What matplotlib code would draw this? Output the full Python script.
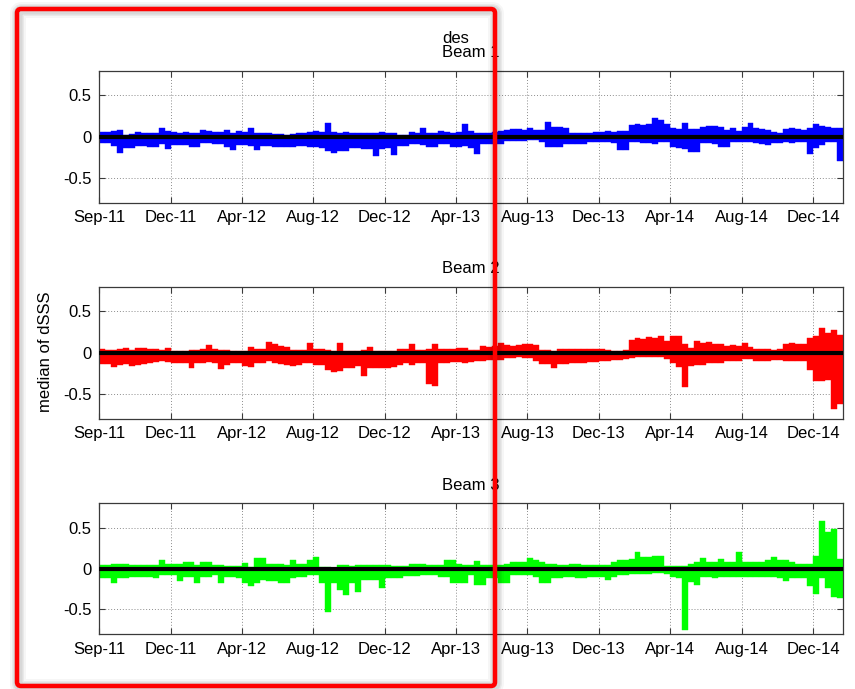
import numpy as np
import matplotlib
matplotlib.use("Agg")
import matplotlib.pyplot as plt
from matplotlib.patches import FancyBboxPatch
from matplotlib.transforms import IdentityTransform

plt.rcParams["font.family"] = ["Liberation Sans", "DejaVu Sans"]

# ---- data: per-bin upper / lower envelope of the median dSSS (10-day bins) ----
bin_days = 10
tick_step_days = 120
tick_labels = ["Sep-11", "Dec-11", "Apr-12", "Aug-12", "Dec-12", "Apr-13",
               "Aug-13", "Dec-13", "Apr-14", "Aug-14", "Dec-14"]

beam1_hi = [.06, .06, .07, .08, .02, .03, .06, .05, .05, .04, .10, .07, .06, .05, .06, .05,
            .04, .08, .07, .06, .06, .08, .05, .07, .06, .10, .05, .04, .04, .03, .03, .02,
            .03, .05, .04, .06, .07, .06, .16, .06, .05, .06, .05, .04, .05, .04, .05, .06,
            .05, .04, .02, .02, .06, .05, .10, .05, .04, .07, .06, .05, .06, .15, .07, .05,
            .04, .05, .06, .07, .08, .09, .09, .08, .10, .08, .08, .18, .12, .12, .10, .05,
            .04, .05, .04, .06, .06, .07, .06, .07, .07, .14, .15, .14, .15, .23, .20, .15,
            .10, .09, .16, .09, .09, .12, .13, .13, .12, .08, .10, .07, .12, .16, .10, .09,
            .08, .06, .04, .09, .10, .09, .08, .10, .15, .13, .12, .11, .11]
beam1_lo = [-.08, -.08, -.11, -.20, -.14, -.14, -.11, -.11, -.13, -.13, -.09, -.15, -.10, -.10,
            -.10, -.13, -.13, -.08, -.08, -.09, -.09, -.12, -.16, -.10, -.10, -.11, -.16, -.11,
            -.11, -.12, -.12, -.12, -.12, -.11, -.11, -.13, -.13, -.14, -.17, -.20, -.17, -.17,
            -.14, -.14, -.15, -.15, -.23, -.15, -.14, -.22, -.11, -.11, -.09, -.09, -.10, -.12,
            -.12, -.09, -.09, -.13, -.13, -.11, -.14, -.21, -.09, -.09, -.09, -.09, -.05, -.05,
            -.05, -.05, -.04, -.04, -.06, -.12, -.12, -.12, -.09, -.09, -.09, -.09, -.07, -.07,
            -.07, -.07, -.08, -.16, -.16, -.07, -.07, -.08, -.08, -.09, -.07, -.07, -.12, -.14,
            -.15, -.18, -.18, -.08, -.08, -.09, -.12, -.12, -.07, -.07, -.06, -.06, -.08, -.09,
            -.10, -.08, -.08, -.07, -.08, -.07, -.07, -.21, -.14, -.10, -.07, -.07, -.29]

beam2_hi = [.04, .03, .03, .05, .06, .03, .06, .06, .04, .04, .03, .06, .02, .02, .02, .03,
            .03, .05, .09, .04, .03, .03, .02, .02, .02, .07, .04, .04, .13, .10, .08, .07,
            .03, .03, .03, .12, .04, .04, .03, .02, .12, .02, .02, .02, .03, .07, .02, .02,
            .02, .02, .04, .04, .10, .03, .03, .04, .10, .04, .04, .04, .06, .06, .03, .03,
            .08, .07, .08, .12, .09, .08, .09, .10, .11, .09, .03, .03, .02, .05, .05, .05,
            .04, .05, .04, .04, .04, .03, .02, .02, .03, .15, .18, .17, .19, .18, .20, .14,
            .20, .20, .10, .06, .14, .12, .13, .10, .10, .08, .09, .08, .12, .07, .04, .04,
            .04, .03, .04, .10, .12, .10, .10, .18, .20, .30, .24, .27, .22]
beam2_lo = [-.14, -.14, -.17, -.15, -.14, -.16, -.15, -.14, -.13, -.11, -.10, -.11, -.12, -.12,
            -.12, -.18, -.12, -.12, -.11, -.12, -.20, -.15, -.13, -.13, -.16, -.17, -.12, -.12,
            -.10, -.13, -.14, -.15, -.16, -.15, -.13, -.12, -.15, -.15, -.21, -.23, -.22, -.18,
            -.18, -.16, -.28, -.19, -.19, -.18, -.18, -.17, -.15, -.13, -.15, -.12, -.12, -.38,
            -.40, -.12, -.12, -.11, -.11, -.12, -.11, -.10, -.10, -.09, -.09, -.09, -.06, -.06,
            -.05, -.06, -.06, -.10, -.14, -.14, -.18, -.14, -.14, -.12, -.12, -.12, -.11, -.11,
            -.10, -.10, -.09, -.09, -.08, -.06, -.05, -.05, -.05, -.05, -.05, -.08, -.12, -.17,
            -.42, -.16, -.15, -.15, -.13, -.12, -.12, -.10, -.10, -.10, -.08, -.08, -.10, -.10,
            -.10, -.09, -.09, -.10, -.10, -.10, -.10, -.21, -.34, -.34, -.33, -.68, -.62]

beam3_hi = [.04, .04, .06, .06, .06, .05, .05, .05, .05, .05, .11, .06, .06, .06, .08, .08,
            .04, .08, .08, .05, .05, .03, .03, .03, .07, .02, .13, .13, .06, .06, .06, .04,
            .10, .06, .06, .10, .14, .02, .02, .01, .05, .04, .03, .04, .04, .04, .04, .04,
            .04, .03, .03, .03, .06, .06, .06, .04, .04, .04, .10, .10, .06, .05, .05, .09,
            .04, .04, .05, .04, .06, .08, .08, .08, .13, .10, .08, .06, .06, .05, .05, .06,
            .06, .04, .04, .05, .05, .04, .08, .10, .10, .12, .20, .14, .14, .16, .16, .03,
            .03, .03, .03, .06, .08, .13, .08, .08, .12, .08, .08, .20, .08, .08, .08, .08,
            .10, .14, .10, .10, .08, .06, .06, .06, .16, .58, .45, .48, .12]
beam3_lo = [-.12, -.12, -.17, -.12, -.12, -.10, -.10, -.10, -.10, -.12, -.08, -.08, -.08, -.15,
            -.10, -.10, -.18, -.10, -.10, -.08, -.17, -.10, -.10, -.12, -.18, -.21, -.18, -.14,
            -.15, -.15, -.17, -.17, -.12, -.10, -.10, -.08, -.08, -.17, -.53, -.18, -.26, -.32,
            -.18, -.28, -.14, -.14, -.14, -.24, -.12, -.12, -.12, -.09, -.09, -.09, -.08, -.08,
            -.08, -.10, -.10, -.17, -.18, -.18, -.08, -.20, -.20, -.12, -.12, -.17, -.17, -.08,
            -.08, -.08, -.08, -.10, -.18, -.18, -.12, -.12, -.10, -.10, -.11, -.11, -.10, -.10,
            -.10, -.14, -.10, -.08, -.08, -.07, -.07, -.06, -.06, -.05, -.05, -.07, -.10, -.12,
            -.75, -.16, -.20, -.10, -.10, -.12, -.10, -.10, -.10, -.10, -.10, -.10, -.10, -.10,
            -.10, -.10, -.12, -.15, -.12, -.12, -.12, -.21, -.31, -.12, -.24, -.35, -.36]

beams = [
    ("des\nBeam 1", beam1_hi, beam1_lo, "#0000ff"),
    ("Beam 2", beam2_hi, beam2_lo, "#ff0000"),
    ("Beam 3", beam3_hi, beam3_lo, "#00ff00"),
]

W, H, DPI = 855, 689, 100
fig = plt.figure(figsize=(W / DPI, H / DPI), dpi=DPI)
fig.patch.set_facecolor("white")

# axes boxes in pixel units: (left, top, right, bottom)
boxes = [(99.3, 70.7, 842.7, 202.7),
         (99.3, 286.7, 842.7, 418.7),
         (99.3, 503.3, 842.7, 634.0)]

FS = 12
spine_col = "#3a3a3a"

for (title, hi, lo, col), (l, t, r, b) in zip(beams, boxes):
    ax = fig.add_axes([l / W, 1 - b / H, (r - l) / W, (b - t) / H])
    n = len(hi)
    x = np.arange(n) * bin_days
    ax.bar(x, hi, width=bin_days, align="edge", color=col, edgecolor=col,
           linewidth=0.3, zorder=2)
    ax.bar(x, lo, width=bin_days, align="edge", color=col, edgecolor=col,
           linewidth=0.3, zorder=2)
    ax.axhline(0, color="black", linewidth=3.0, zorder=3)

    ax.set_xlim(0, n * bin_days)
    ax.set_ylim(-0.8, 0.8)
    ticks = np.arange(len(tick_labels)) * tick_step_days
    ax.set_xticks(ticks)
    ax.set_xticklabels(tick_labels, fontsize=FS)
    ax.set_yticks([-0.5, 0, 0.5])
    ax.set_yticklabels(["-0.5", "0", "0.5"], fontsize=FS)
    ax.tick_params(direction="in", length=4.3, width=0.8, color=spine_col,
                   top=True, right=True, pad=5.5, labelcolor="black")
    ax.grid(True, linestyle=(0, (1, 2)), color="#8c8c8c", linewidth=0.7, zorder=0)
    ax.set_axisbelow(True)
    for s in ax.spines.values():
        s.set_color(spine_col)
        s.set_linewidth(0.9)

    ax.text(0.5, 1 + 13.4 / (b - t), title, transform=ax.transAxes,
            ha="center", va="baseline", ma="left", fontsize=FS, linespacing=0.92)

fig.text(45 / W, 1 - 352 / H, "median of dSSS", rotation=90,
         ha="center", va="center", fontsize=FS)

# highlight frame with a soft shadow
x0, x1 = 17, 495
y0, y1 = H - 686, H - 9
for lw_px, a in [(16, 0.035), (12, 0.05), (9, 0.07)]:
    sh = FancyBboxPatch((x0 + 1, y0 - 1), x1 - x0, y1 - y0,
                        boxstyle="round,pad=0,rounding_size=4",
                        fill=False, edgecolor="black", alpha=a,
                        linewidth=lw_px * 72 / DPI, transform=IdentityTransform())
    fig.add_artist(sh)
frame = FancyBboxPatch((x0, y0), x1 - x0, y1 - y0,
                       boxstyle="round,pad=0,rounding_size=4",
                       fill=False, edgecolor="#ff0000",
                       linewidth=4.5 * 72 / DPI, transform=IdentityTransform())
fig.add_artist(frame)

fig.savefig("out.png", dpi=DPI)
